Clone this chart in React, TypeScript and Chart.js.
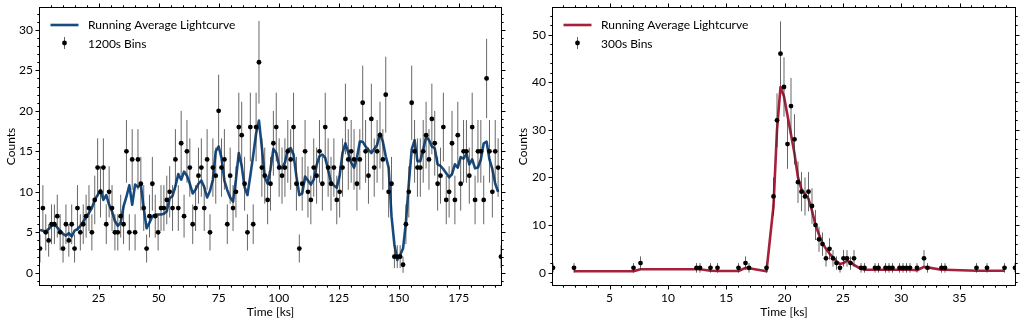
import React, { useEffect, useRef } from "react";
import { Chart, registerables } from "chart.js";

Chart.register(...registerables);

const FONT_FAMILY = "Lato, 'Open Sans', 'DejaVu Sans', sans-serif";

// ---------------- Left panel: 1200 s bins ----------------
const leftBinStartKs = 0.6;
const leftBinWidthKs = 1.2;
const leftCounts = [
  3, 8, 5, 4, 6, 6, 7, 5, 3, 6,
  4, 6, 3, 8, 5, 6, 7, 8, 5, 9,
  13, 10, 13, 6, 10, 8, 5, 5, 7, 6,
  15, 5, 14, 5, 14, 11, 8, 3, 7, 11,
  7, 5, 8, 8, 9, 10, 8, 14, 8, 16,
  7, 15, 13, 6, 8, 12, 13, 8, 14, 5,
  13, 12, 20, 13, 14, 6, 12, 8, 10, 18,
  17, 11, 5, 18, 6, 18, 26, 13, 12, 9,
  11, 16, 18, 13, 12, 13, 15, 14, 18, 11,
  3, 11, 15, 10, 9, 13, 12, 15, 11, 18,
  13, 11, 13, 9, 10, 13, 19, 14, 15, 14,
  11, 14, 21, 15, 12, 19, 13, 15, 17, 14,
  22, 10, 11, 2, 2, 2, 1, 6, 10, 21,
  15, 13, 13, 15, 17, 14, 19, 16, 11, 12,
  18, 9, 10, 16, 9, 17, 11, 15, 15, 12,
  18, 9, 15, 15, 9, 24, 15, 10, 15, 13,
  2,
];
const leftRunningAvg: (number | null)[] = [
  5.3, 5.2, 5.1, 5.4, 5.8, 6.0, 5.6, 5.2, 4.8, 4.6,
  4.9, 4.5, 5.2, 5.4, 5.8, 6.3, 6.9, 7.4, 8.0, 9.0,
  9.6, 10.2, 9.0, 9.6, 8.4, 7.6, 6.4, 5.8, 6.2, 8.2,
  9.4, 10.8, 8.4, 10.9, 10.6, 10.9, 8.0, 5.5, 6.2, 7.0,
  7.2, 7.2, 7.2, 7.3, 7.6, 9.2, 9.5, 10.7, 12.2, 11.5,
  12.5, 12.0, 11.0, 9.8, 10.3, 11.0, 11.4, 10.6, 9.3, 10.1,
  11.5, 15.0, 15.6, 14.2, 11.4, 10.2, 9.3, 8.8, 11.5, 14.8,
  13.2, 10.6, 9.6, 12.0, 14.5, 17.2, 18.8, 15.5, 11.8, 11.0,
  12.8, 15.3, 14.8, 13.2, 12.9, 13.6, 15.2, 15.4, 14.6, 11.9,
  9.6, 9.8, 11.9, 11.4, 10.9, 11.5, 13.3, 14.4, 14.6, 14.2,
  12.7, 11.2, 10.8, 10.5, 12.0, 14.8, 16.0, 14.8, 13.6, 13.0,
  14.2, 16.2, 16.2, 15.6, 15.2, 14.8, 15.3, 15.8, 17.2, 16.2,
  14.4, 13.0, 7.0, 3.5, 1.6, 2.2, 3.0, 6.2, 11.0, 15.2,
  16.4, 13.8, 13.8, 15.2, 16.8, 16.4, 15.6, 15.4, 13.4, 13.2,
  12.8, 12.3, 11.8, 12.2, 13.4, 13.0, 14.3, 14.1, 14.7, 13.4,
  14.0, 12.9, 13.0, 14.0, 16.0, 16.2, 14.0, 12.8, 11.0, 10.0,
  null,
];
const leftTimes = leftCounts.map((_, i) => leftBinStartKs + leftBinWidthKs * i);
const leftXTicks = [25, 50, 75, 100, 125, 150, 175];
const leftYTicks = [0, 5, 10, 15, 20, 25, 30];

// ---------------- Right panel: 300 s bins ----------------
const rightTimes = [
  0.15, 1.95, 7.05, 7.65, 12.45, 12.75, 13.65, 14.25,
  16.05, 16.65, 16.95, 18.45, 19.05, 19.35, 19.65, 19.95,
  20.25, 20.55, 20.85, 21.15, 21.45, 21.75, 22.05, 22.35,
  22.65, 22.95, 23.25, 23.55, 23.85, 24.15, 24.45, 24.75,
  25.05, 25.35, 25.65, 25.95, 26.55, 26.85, 27.75, 28.05,
  28.65, 28.95, 29.25, 29.85, 30.15, 30.45, 30.75, 31.35,
  31.95, 32.25, 33.45, 33.75, 36.45, 37.35, 38.85, 39.75,
];
const rightCounts = [
  1, 1, 1, 2, 1, 1, 1, 1,
  1, 2, 1, 1, 16, 32, 46, 39,
  27, 35, 28, 19, 17, 16, 17, 14,
  10, 7, 6, 3, 5, 3, 2, 1,
  3, 3, 2, 3, 1, 1, 1, 1,
  1, 1, 1, 1, 1, 1, 1, 1,
  3, 1, 1, 1, 1, 1, 1, 1,
];
const rightRunningAvg: (number | null)[] = [
  null, 0.3, 0.3, 0.7, 0.7, 0.7, 0.4, 0.35,
  0.35, 1.0, 0.9, 0.3, 14, 30, 39, 37,
  33, 29, 25, 20, 17.5, 16.5, 15.5, 13,
  10, 8, 6.2, 5, 4, 3.2, 2.4, 1.8,
  2.0, 2.5, 2.2, 1.6, 0.8, 0.6, 0.6, 0.6,
  0.6, 0.6, 0.6, 0.6, 0.6, 0.6, 0.6, 0.5,
  1.2, 1.1, 0.6, 0.6, 0.4, 0.4, 0.4, null,
];
const rightXTicks = [5, 10, 15, 20, 25, 30, 35];
const rightYTicks = [0, 10, 20, 30, 40, 50];

type PanelCfg = {
  times: number[];
  counts: number[];
  avg: (number | null)[];
  xMin: number;
  xMax: number;
  yMin: number;
  yMax: number;
  xTicks: number[];
  yTicks: number[];
  xMinorStep: number;
  yMinorStep: number;
  lineColor: string;
  binLabel: string;
  yAxisWidth: number;
  rightPad: number;
};

const leftCfg: PanelCfg = {
  times: leftTimes,
  counts: leftCounts,
  avg: leftRunningAvg,
  xMin: 0.6,
  xMax: 192.6,
  yMin: -1.5,
  yMax: 32.7,
  xTicks: leftXTicks,
  yTicks: leftYTicks,
  xMinorStep: 5,
  yMinorStep: 1,
  lineColor: "#174b80",
  binLabel: "1200s Bins",
  yAxisWidth: 40,
  rightPad: 11,
};

const rightCfg: PanelCfg = {
  times: rightTimes,
  counts: rightCounts,
  avg: rightRunningAvg,
  xMin: 0.15,
  xMax: 39.75,
  yMin: -2.6,
  yMax: 55.6,
  xTicks: rightXTicks,
  yTicks: rightYTicks,
  xMinorStep: 1,
  yMinorStep: 2,
  lineColor: "#a5203a",
  binLabel: "300s Bins",
  yAxisWidth: 41,
  rightPad: 9,
};

const ERR_COLOR = "rgba(45,45,45,0.72)";

function minorValues(min: number, max: number, step: number): number[] {
  const out: number[] = [];
  for (let v = Math.ceil(min / step) * step; v <= max + 1e-9; v += step) out.push(v);
  return out;
}

function makeDecorPlugin(cfg: PanelCfg) {
  return {
    id: "lcDecor",
    beforeDatasetDraw(chart: any, args: any) {
      if (args.index !== 1) return;
      const { ctx, chartArea: a } = chart;
      const xs = chart.scales.x;
      const ys = chart.scales.y;
      const ds = chart.data.datasets[1];
      ctx.save();
      ctx.beginPath();
      ctx.rect(a.left, a.top, a.right - a.left, a.bottom - a.top);
      ctx.clip();
      ctx.strokeStyle = ERR_COLOR;
      ctx.lineWidth = 1;
      ds.data.forEach((p: any) => {
        const e = Math.sqrt(p.y);
        const px = xs.getPixelForValue(p.x);
        ctx.beginPath();
        ctx.moveTo(px, ys.getPixelForValue(p.y - e));
        ctx.lineTo(px, ys.getPixelForValue(p.y + e));
        ctx.stroke();
      });
      ctx.restore();
    },
    afterDraw(chart: any) {
      const { ctx, chartArea: a } = chart;
      const xs = chart.scales.x;
      const ys = chart.scales.y;
      ctx.save();
      // frame
      ctx.strokeStyle = "#000";
      ctx.lineWidth = 1;
      const L = Math.round(a.left) - 0.5;
      const R = Math.round(a.right) + 0.5;
      const T = Math.round(a.top) - 0.5;
      const B = Math.round(a.bottom) + 0.5;
      ctx.strokeRect(L, T, R - L, B - T);
      // ticks on all four sides (outward)
      const drawX = (v: number, len: number) => {
        const px = Math.round(xs.getPixelForValue(v)) + 0.5;
        ctx.beginPath();
        ctx.moveTo(px, B);
        ctx.lineTo(px, B + len);
        ctx.moveTo(px, T);
        ctx.lineTo(px, T - len);
        ctx.stroke();
      };
      const drawY = (v: number, len: number) => {
        const py = Math.round(ys.getPixelForValue(v)) + 0.5;
        ctx.beginPath();
        ctx.moveTo(L, py);
        ctx.lineTo(L - len, py);
        ctx.moveTo(R, py);
        ctx.lineTo(R + len, py);
        ctx.stroke();
      };
      minorValues(cfg.xMin, cfg.xMax, cfg.xMinorStep).forEach((v) => drawX(v, 2.2));
      minorValues(cfg.yMin, cfg.yMax, cfg.yMinorStep).forEach((v) => drawY(v, 2.2));
      cfg.xTicks.forEach((v) => drawX(v, 4));
      cfg.yTicks.forEach((v) => drawY(v, 4));

      // legend
      const lx = a.left;
      const ty = a.top;
      ctx.strokeStyle = cfg.lineColor;
      ctx.lineWidth = 2.6;
      ctx.lineCap = "butt";
      ctx.beginPath();
      ctx.moveTo(lx + 10.5, ty + 17);
      ctx.lineTo(lx + 38.5, ty + 17);
      ctx.stroke();
      ctx.strokeStyle = ERR_COLOR;
      ctx.lineWidth = 1;
      ctx.beginPath();
      ctx.moveTo(lx + 24.5, ty + 29);
      ctx.lineTo(lx + 24.5, ty + 41);
      ctx.stroke();
      ctx.fillStyle = "#000";
      ctx.beginPath();
      ctx.arc(lx + 24.5, ty + 35, 2.4, 0, Math.PI * 2);
      ctx.fill();
      ctx.font = `12px ${FONT_FAMILY}`;
      ctx.textBaseline = "middle";
      ctx.textAlign = "left";
      ctx.fillText(chart.data.datasets[0].label, lx + 48, ty + 17);
      ctx.fillText(chart.data.datasets[1].label, lx + 48, ty + 36);
      ctx.restore();
    },
  };
}

function makeChart(canvas: HTMLCanvasElement, cfg: PanelCfg) {
  const points = cfg.times.map((t, i) => ({ x: t, y: cfg.counts[i] }));
  const line = cfg.times
    .map((t, i) => ({ x: t, y: cfg.avg[i] }))
    .filter((p) => p.y !== null) as { x: number; y: number }[];
  const tickFont = { family: FONT_FAMILY, size: 12 };
  const zeroPad = (s: any) => {
    s.paddingTop = 0;
    s.paddingBottom = 0;
    s.paddingLeft = 0;
    s.paddingRight = 0;
  };
  return new Chart(canvas, {
    type: "scatter",
    data: {
      datasets: [
        {
          label: "Running Average Lightcurve",
          data: line,
          showLine: true,
          borderColor: cfg.lineColor,
          backgroundColor: cfg.lineColor,
          borderWidth: 2.6,
          borderJoinStyle: "round",
          pointRadius: 0,
          tension: 0,
          order: 2,
        } as any,
        {
          label: cfg.binLabel,
          data: points,
          showLine: false,
          pointRadius: 2.4,
          pointBackgroundColor: "#000",
          pointBorderColor: "#000",
          pointBorderWidth: 0,
          order: 1,
        } as any,
      ],
    },
    options: {
      responsive: false,
      animation: false,
      devicePixelRatio: 1,
      events: [],
      layout: { padding: { top: 8, right: cfg.rightPad, left: 0, bottom: 0 } },
      plugins: { legend: { display: false }, tooltip: { enabled: false } },
      scales: {
        x: {
          type: "linear",
          position: "bottom",
          min: cfg.xMin,
          max: cfg.xMax,
          grid: { display: false, drawTicks: false },
          border: { display: false },
          ticks: {
            font: tickFont,
            color: "#000",
            padding: 6,
            includeBounds: false,
            autoSkip: false,
            maxRotation: 0,
          },
          afterBuildTicks: (s: any) => {
            s.ticks = cfg.xTicks.map((v) => ({ value: v }));
          },
          afterFit: (s: any) => {
            s.height = 40;
            zeroPad(s);
          },
          title: {
            display: true,
            text: "Time [ks]",
            color: "#000",
            font: tickFont,
            padding: { top: 0, bottom: 6 },
          },
        },
        y: {
          type: "linear",
          position: "left",
          min: cfg.yMin,
          max: cfg.yMax,
          grid: { display: false, drawTicks: false },
          border: { display: false },
          ticks: {
            font: tickFont,
            color: "#000",
            padding: 7,
            includeBounds: false,
            autoSkip: false,
          },
          afterBuildTicks: (s: any) => {
            s.ticks = cfg.yTicks.map((v) => ({ value: v }));
          },
          afterFit: (s: any) => {
            s.width = cfg.yAxisWidth;
            zeroPad(s);
          },
          title: {
            display: true,
            text: "Counts",
            color: "#000",
            font: tickFont,
            padding: { top: 4, bottom: 0 },
          },
        },
      },
    },
    plugins: [makeDecorPlugin(cfg)],
  } as any);
}

export default function App() {
  const leftRef = useRef<HTMLCanvasElement | null>(null);
  const rightRef = useRef<HTMLCanvasElement | null>(null);

  useEffect(() => {
    const c1 = makeChart(leftRef.current as HTMLCanvasElement, leftCfg);
    const c2 = makeChart(rightRef.current as HTMLCanvasElement, rightCfg);
    return () => {
      c1.destroy();
      c2.destroy();
    };
  }, []);

  return (
    <div
      style={{
        position: "absolute",
        left: 0,
        top: 0,
        width: 1024,
        height: 325,
        background: "#fff",
      }}
    >
      <canvas
        ref={leftRef}
        width={512}
        height={325}
        style={{ position: "absolute", left: 0, top: 0, width: 512, height: 325 }}
      />
      <canvas
        ref={rightRef}
        width={512}
        height={325}
        style={{ position: "absolute", left: 512, top: 0, width: 512, height: 325 }}
      />
    </div>
  );
}
